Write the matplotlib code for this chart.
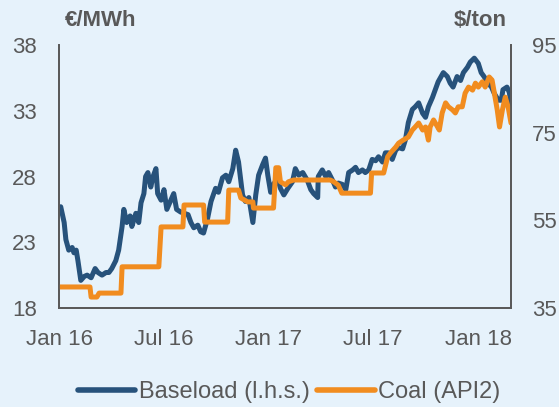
import matplotlib
matplotlib.use("Agg")
import matplotlib.pyplot as plt
import pandas as pd

plt.rcParams['font.family'] = ['Liberation Sans', 'DejaVu Sans']

# Day offsets from 2016-01-01 and values
base_days = [3, 9, 12, 17, 23, 26, 30, 33, 38, 44, 49, 56, 63, 68, 75, 82, 87, 92, 99, 104, 110, 113,
             118, 124, 127, 134, 139, 143, 148, 151, 155, 160, 164, 169, 172, 178, 183, 188, 195, 200,
             205, 212, 225, 230, 235, 242, 247, 252, 259, 265, 273, 278, 285, 291, 296, 303, 308, 313,
             320, 325, 331, 338, 343, 348, 355, 360, 364, 369, 374, 381, 386, 392, 399, 407, 412, 418,
             425, 433, 439, 444, 451, 452, 459, 465, 470, 477, 482, 487, 494, 500, 505, 512, 517, 522,
             529, 534, 540, 546, 552, 557, 564, 569, 574, 581, 587, 592, 599, 604, 609, 616, 621, 627,
             634, 639, 644, 651, 656, 661, 670, 677, 682, 687, 694, 700, 705, 712, 717, 724, 731, 736,
             741, 748, 754, 759, 766, 771, 774, 781, 785, 788]
base_vals = [25.7, 24.5, 23.2, 22.4, 22.6, 22.2, 22.4, 21.6, 20.1, 20.4, 20.5, 20.3, 21.0, 20.7, 20.5,
             20.7, 20.7, 21.0, 21.6, 22.4, 24.2, 25.5, 24.5, 25.0, 24.2, 25.2, 24.5, 26.0, 26.7, 28.0,
             28.3, 27.2, 28.0, 28.6, 26.7, 26.2, 27.0, 25.5, 26.2, 26.7, 25.5, 25.3, 25.1, 24.5, 24.1,
             24.3, 23.8, 23.7, 24.8, 26.1, 27.1, 26.8, 27.9, 28.1, 27.6, 28.6, 30.0, 29.1, 26.6, 26.1,
             26.4, 24.5, 26.6, 28.1, 28.9, 29.4, 28.1, 26.8, 27.4, 27.9, 27.1, 26.6, 27.1, 27.6, 28.6,
             28.1, 28.3, 27.7, 27.0, 26.7, 26.4, 28.0, 28.5, 28.0, 28.3, 27.7, 27.2, 27.5, 27.4, 27.0,
             28.3, 28.5, 28.7, 28.3, 28.5, 28.3, 28.5, 29.3, 29.2, 29.5, 29.1, 29.8, 29.8, 29.3, 30.0,
             30.2, 30.1, 30.8, 32.1, 33.1, 33.3, 33.6, 32.8, 32.5, 33.3, 34.0, 34.6, 35.2, 35.9, 35.6,
             35.1, 34.8, 35.6, 35.3, 35.9, 36.3, 36.7, 37.0, 36.6, 35.9, 35.6, 35.1, 34.8, 34.3, 33.8,
             33.8, 34.6, 34.8, 34.4, 33.6]

coal_days = [0, 54, 56, 66, 70, 108, 110, 174, 178, 216, 218, 252, 254, 294, 296, 313, 317, 329, 338,
             339, 374, 378, 383, 386, 395, 400, 409, 473, 479, 487, 493, 543, 545, 566, 573, 578, 587,
             592, 600, 609, 616, 621, 627, 634, 639, 644, 647, 653, 660, 663, 668, 674, 679, 686, 691,
             696, 703, 708, 714, 721, 726, 731, 738, 743, 750, 755, 759, 764, 768, 773, 778, 783, 788]
coal_vals = [39.8, 39.8, 37.5, 37.5, 38.4, 38.4, 44.4, 44.4, 53.5, 53.5, 58.5, 58.5, 54.6, 54.6, 61.9,
             61.9, 60.1, 59.2, 59.2, 57.8, 57.8, 67.0, 67.0, 63.8, 63.1, 63.8, 64.2, 64.2, 63.8, 63.0,
             61.2, 61.2, 65.8, 65.8, 69.5, 70.4, 71.7, 72.6, 73.3, 74.0, 75.6, 76.3, 77.2, 75.6, 76.3,
             73.3, 76.3, 77.9, 76.3, 75.6, 79.5, 81.8, 80.9, 80.2, 79.5, 80.9, 80.9, 84.0, 85.4, 84.7,
             86.3, 85.4, 86.6, 85.4, 87.7, 87.0, 84.0, 80.2, 76.3, 80.2, 83.1, 80.9, 77.2]

left_ticks = [18, 23, 28, 33, 38]
right_ticks = [35, 55, 75, 95]
x_tick_dates = ['2016-01-01', '2016-07-01', '2017-01-01', '2017-07-01', '2018-01-01']
x_tick_labels = ['Jan 16', 'Jul 16', 'Jan 17', 'Jul 17', 'Jan 18']

start = pd.Timestamp('2016-01-01')
base_dates = start + pd.to_timedelta(base_days, unit='D')
coal_dates = start + pd.to_timedelta(coal_days, unit='D')

bg = '#E6F2FB'
grey = '#595959'
blue = '#27527B'
orange = '#F18C1F'

fig = plt.figure(figsize=(5.59, 4.07), dpi=100, facecolor=bg)
ax = fig.add_axes([59/559, 1-308/407, (511-59)/559, (308-45)/407])
ax.set_facecolor(bg)
ax2 = ax.twinx()

l1, = ax.plot(base_dates, base_vals, color=blue, lw=3.6, solid_capstyle='round',
              solid_joinstyle='round', label='Baseload (l.h.s.)')
l2, = ax2.plot(coal_dates, coal_vals, color=orange, lw=3.6, solid_capstyle='round',
               solid_joinstyle='round', label='Coal (API2)')

ax.set_xlim(start, start + pd.Timedelta(days=788))
ax.set_ylim(18, 38)
ax2.set_ylim(35, 95)
ax.set_yticks(left_ticks)
ax2.set_yticks(right_ticks)
ax.set_xticks(pd.to_datetime(x_tick_dates))
ax.set_xticklabels(x_tick_labels)

for a in (ax, ax2):
    a.spines['top'].set_visible(False)
    for s in ('left', 'right', 'bottom'):
        a.spines[s].set_color(grey)
        a.spines[s].set_linewidth(1.3)
    a.tick_params(length=0, labelsize=16, labelcolor=grey)
ax.tick_params(axis='y', pad=16)
ax.tick_params(axis='x', pad=15)
ax2.tick_params(axis='y', pad=15)

fig.text(65/559, 1-20/407, '€/MWh', fontsize=16, fontweight='bold', color=grey,
         ha='left', va='center')
fig.text(507/559, 1-20/407, '$/ton', fontsize=16, fontweight='bold', color=grey,
         ha='right', va='center')

leg = fig.legend(handles=[l1, l2], loc='center', bbox_to_anchor=(0.517, 1-392/407),
                 ncol=2, frameon=False, fontsize=17, handlelength=2.45, handletextpad=0.15,
                 columnspacing=0.3, labelcolor=grey)
for h in leg.get_lines():
    h.set_linewidth(4)
    h.set_solid_capstyle('round')

fig.savefig('out.png', dpi=100, facecolor=bg)
